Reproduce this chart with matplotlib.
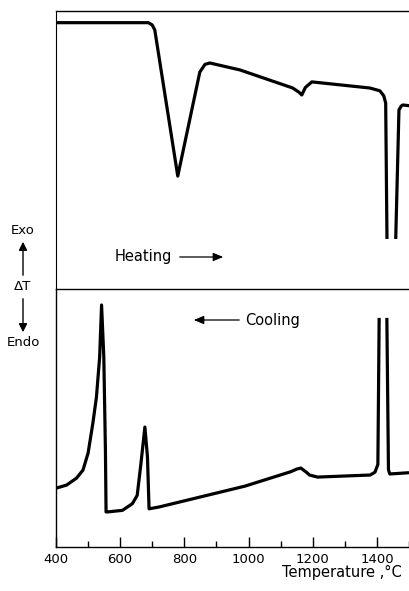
import numpy as np
import matplotlib
matplotlib.use("Agg")
import matplotlib.pyplot as plt
from matplotlib.patches import FancyArrowPatch

# heating trace (top panel), arbitrary DeltaT units 0..100
heat_T = [400, 685, 697, 705, 776, 844, 860, 875, 968, 1131, 1150, 1159, 1170, 1190,
          1369, 1400, 1412, 1418, 1422, np.nan, 1449, 1459, 1466, 1471, 1500]
heat_v = [95.8, 95.8, 95.0, 93.2, 40.6, 78.0, 80.8, 81.3, 78.8, 72.3, 70.8, 69.8, 72.5, 74.5,
          72.3, 71.3, 69.5, 66.9, 18.0, np.nan, 18.0, 64.4, 65.8, 66.2, 65.8]

# cooling trace (bottom panel)
cool_T = [400, 433, 464, 484, 500, 515, 526, 536, 542, 549, 554, 556, 561, 607, 638, 653,
          664, 677, 685, 690, 721, 989, 1132, 1150, 1163, 1180, 1190, 1215, 1379, 1394,
          1403, 1407, np.nan, 1431, 1436, 1440, 1500]
cool_v = [22.8, 24.0, 26.7, 29.8, 36.4, 48.1, 58.1, 73.6, 93.8, 73.6, 37.6, 13.6, 13.6, 14.2,
          16.8, 20.0, 31.6, 46.5, 34.9, 14.8, 15.5, 23.6, 29.2, 30.2, 30.6, 29.0, 27.9, 27.1,
          27.9, 29.0, 32.0, 88.8, np.nan, 88.8, 30.0, 28.3, 28.8]

major_ticks = [400, 600, 800, 1000, 1200, 1400]
minor_ticks = [500, 700, 900, 1100, 1300, 1500]

fig = plt.figure(figsize=(4.09, 5.91), dpi=100)
W, H = 409, 591

ax1 = fig.add_axes([56 / W, 1 - 289 / H, (409 - 56) / W, (289 - 11) / H])
ax2 = fig.add_axes([56 / W, 1 - 547 / H, (409 - 56) / W, (547 - 289) / H])

lw = 2.3
ax1.plot(heat_T, heat_v, color="black", lw=lw, solid_joinstyle="round", solid_capstyle="butt")
ax2.plot(cool_T, cool_v, color="black", lw=lw, solid_joinstyle="round", solid_capstyle="butt")

for ax in (ax1, ax2):
    ax.set_xlim(400, 1490)
    ax.set_ylim(0, 100)
    ax.spines["right"].set_visible(False)
    ax.set_yticks([])
    for s in ax.spines.values():
        s.set_linewidth(1.0)

ax1.spines["bottom"].set_visible(False)
ax1.set_xticks([])
ax1.spines["left"].set_linewidth(0.8)

ax2.set_xticks(major_ticks)
ax2.set_xticks(minor_ticks, minor=True)
ax2.tick_params(axis="x", which="major", direction="in", length=7, width=1.0, labelsize=9.5, pad=4)
ax2.tick_params(axis="x", which="minor", direction="in", length=4, width=1.0)

fig.text(402 / W, 1 - 572 / H, "Temperature ,°C", ha="right", va="center", fontsize=10.5)

# Exo / DeltaT / Endo label with arrows
fig.text(23 / W, 1 - 230 / H, "Exo", ha="center", va="center", fontsize=9.5)
fig.text(23 / W, 1 - 287 / H, "ΔT", ha="center", va="center", fontsize=9.5)
fig.text(23 / W, 1 - 343 / H, "Endo", ha="center", va="center", fontsize=9.5)
fig.add_artist(FancyArrowPatch((23 / W, 1 - 278 / H), (23 / W, 1 - 239 / H),
               transform=fig.transFigure, arrowstyle="-|>,head_length=5,head_width=2.5",
               mutation_scale=1, color="black", lw=1.0))
fig.add_artist(FancyArrowPatch((23 / W, 1 - 296 / H), (23 / W, 1 - 335 / H),
               transform=fig.transFigure, arrowstyle="-|>,head_length=5,head_width=2.5",
               mutation_scale=1, color="black", lw=1.0))

# Heating / Cooling
fig.text(115 / W, 1 - 257 / H, "Heating", ha="left", va="center", fontsize=10.5)
fig.add_artist(FancyArrowPatch((177 / W, 1 - 257 / H), (226 / W, 1 - 257 / H),
               transform=fig.transFigure, arrowstyle="-|>,head_length=6,head_width=2.5",
               mutation_scale=1, color="black", lw=0.9))
fig.text(245 / W, 1 - 320 / H, "Cooling", ha="left", va="center", fontsize=10.5)
fig.add_artist(FancyArrowPatch((242 / W, 1 - 320 / H), (191 / W, 1 - 320 / H),
               transform=fig.transFigure, arrowstyle="-|>,head_length=6,head_width=2.5",
               mutation_scale=1, color="black", lw=0.9))

fig.savefig("out.png", dpi=100)
